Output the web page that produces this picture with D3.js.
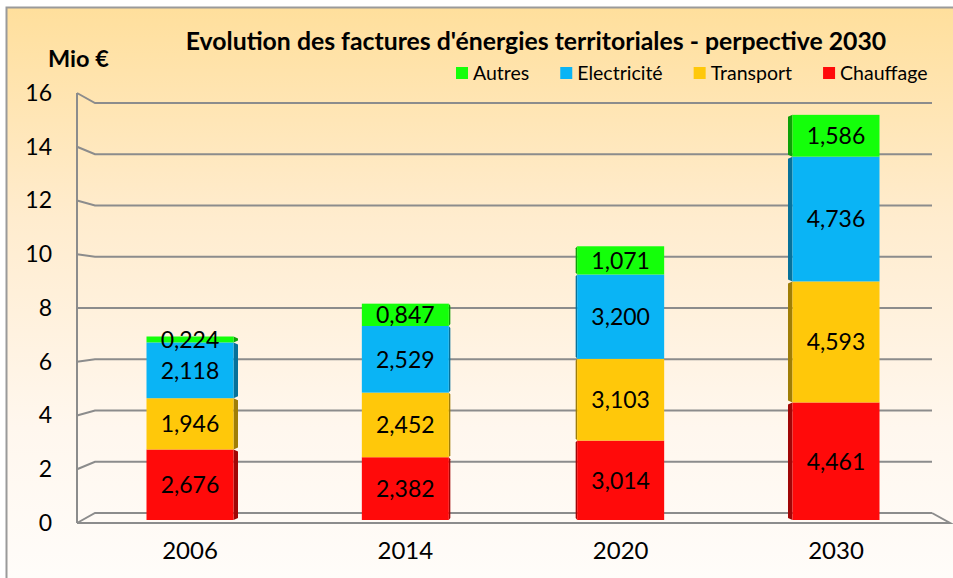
<!DOCTYPE html>
<html>
<head>
<meta charset="utf-8">
<script src="https://cdn.jsdelivr.net/npm/d3@7"></script>
<style>
  body { margin: 0; background: #fff; }
  svg { display: block; font-family: Lato, "Open Sans", sans-serif; }
</style>
</head>
<body>
<svg id="chart"></svg>
<script>
var years = ["2006", "2014", "2020", "2030"];
var series = ["Chauffage", "Transport", "Electricité", "Autres"];
var chauffage = [2.676, 2.382, 3.014, 4.461];
var transport = [1.946, 2.452, 3.103, 4.593];
var electricite = [2.118, 2.529, 3.200, 4.736];
var autres = [0.224, 0.847, 1.071, 1.586];
var yTicks = [0, 2, 4, 6, 8, 10, 12, 14, 16];
var legendOrder = ["Autres", "Electricité", "Transport", "Chauffage"];

var colors = {
    "Chauffage": "#ff0a0a",
    "Transport": "#ffc80a",
    "Electricité": "#0ab4f5",
    "Autres": "#14ff0a"
};

var width = 953, height = 578;

var svg = d3.select("#chart")
    .attr("width", width)
    .attr("height", height);

// background
var defs = svg.append("defs");
var grad = defs.append("linearGradient")
    .attr("id", "bg")
    .attr("x1", 0).attr("y1", 0)
    .attr("x2", 0).attr("y2", 1);
grad.append("stop").attr("offset", "0%").attr("stop-color", "#ffdf9c");
grad.append("stop").attr("offset", "35%").attr("stop-color", "#ffecce");
grad.append("stop").attr("offset", "70%").attr("stop-color", "#fff7ee");
grad.append("stop").attr("offset", "100%").attr("stop-color", "#fffdfb");

svg.append("rect")
    .attr("x", 6.5).attr("y", 7.5)
    .attr("width", 960).attr("height", 600)
    .attr("fill", "url(#bg)")
    .attr("stroke", "#9a9a9a")
    .attr("stroke-width", 2);

// table for stacking
var table = years.map(function (y, i) {
    return {
        year: y,
        "Chauffage": chauffage[i],
        "Transport": transport[i],
        "Electricité": electricite[i],
        "Autres": autres[i]
    };
});
var stacked = d3.stack().keys(series)(table);

// scales: front plane, back wall and bar plane (perspective)
var yFront = d3.scaleLinear().domain([0, 16]).range([523, 93]);
var yBack = d3.scaleLinear().domain([0, 16]).range([513, 103]);
var yBar = d3.scaleLinear().domain([0, 16]).range([520, 98.4]);

var xScale = d3.scaleBand()
    .domain(years)
    .range([86, 940])
    .paddingInner(0.596)
    .paddingOuter(0.281);

var frontLeft = 77, backLeft = 95, backRight = 932, frontRight = 950;
var gridColor = "#8c8c8c";

// walls and gridlines
var grid = svg.append("g")
    .attr("fill", "none")
    .attr("stroke", gridColor)
    .attr("stroke-width", 2);

grid.append("line")
    .attr("x1", frontLeft).attr("x2", frontLeft)
    .attr("y1", yFront(16)).attr("y2", yFront(0));

grid.selectAll(".tickline")
    .data(yTicks)
    .enter()
    .append("polyline")
    .attr("points", function (d) {
        return [frontLeft, yFront(d), backLeft, yBack(d), backRight, yBack(d)].join(",");
    });

grid.append("polyline")
    .attr("points", [frontLeft, yFront(0), frontRight, yFront(0), backRight, yBack(0)].join(","));

// y axis labels
var yAxis = svg.append("g")
    .attr("transform", "translate(" + frontLeft + ",0)")
    .call(d3.axisLeft(yFront).tickValues(yTicks).tickSize(0).tickPadding(25));
yAxis.select(".domain").remove();
yAxis.selectAll("text")
    .attr("font-family", "Lato, sans-serif")
    .attr("font-size", 23)
    .attr("fill", "#000");

// x axis labels
var xAxis = svg.append("g")
    .attr("transform", "translate(0," + yFront(0) + ")")
    .call(d3.axisBottom(xScale).tickSize(0).tickPadding(19));
xAxis.select(".domain").remove();
xAxis.selectAll("text")
    .attr("font-family", "Lato, sans-serif")
    .attr("font-size", 24)
    .attr("fill", "#000");

// bars
var vanish = 513;
var fmt = d3.formatLocale({ decimal: ",", thousands: " ", grouping: [3], currency: ["", "€"] }).format(".3f");

var layers = svg.append("g").selectAll("g")
    .data(stacked)
    .enter()
    .append("g");

// side faces
layers.selectAll(".side")
    .data(function (d) { return d.map(function (p) { return { key: d.key, p: p }; }); })
    .enter()
    .append("polygon")
    .attr("fill", function (d) { return d3.color(colors[d.key]).darker(1.3); })
    .attr("points", function (d) {
        var x0 = xScale(d.p.data.year);
        var bw = xScale.bandwidth();
        var c = x0 + bw / 2;
        var sw = Math.abs(c - vanish) * 4.5 / 323;
        var edge = c < vanish ? x0 + bw : x0;
        var dir = c < vanish ? 1 : -1;
        var yt = yBar(d.p[1]), yb = yBar(d.p[0]);
        return [edge, yt, edge + dir * sw, yt + 2, edge + dir * sw, yb - 2, edge, yb].join(",");
    });

// front faces
layers.selectAll(".front")
    .data(function (d) { return d.map(function (p) { return { key: d.key, p: p }; }); })
    .enter()
    .append("rect")
    .attr("x", function (d) { return xScale(d.p.data.year); })
    .attr("y", function (d) { return yBar(d.p[1]); })
    .attr("width", xScale.bandwidth())
    .attr("height", function (d) { return yBar(d.p[0]) - yBar(d.p[1]); })
    .attr("fill", function (d) { return colors[d.key]; });

// value labels
layers.selectAll(".lbl")
    .data(function (d) { return d.map(function (p) { return { key: d.key, p: p }; }); })
    .enter()
    .append("text")
    .attr("x", function (d) { return xScale(d.p.data.year) + xScale.bandwidth() / 2; })
    .attr("y", function (d) { return yBar((d.p[0] + d.p[1]) / 2); })
    .attr("dy", "0.36em")
    .attr("text-anchor", "middle")
    .attr("font-size", 23)
    .attr("fill", "#000")
    .text(function (d) { return fmt(d.p[1] - d.p[0]); });

// title and unit
svg.append("text")
    .attr("x", 536)
    .attr("y", 50)
    .attr("text-anchor", "middle")
    .attr("font-size", 24.8)
    .attr("font-weight", "bold")
    .text("Evolution des factures d'énergies territoriales - perpective 2030");

svg.append("text")
    .attr("x", 48)
    .attr("y", 67)
    .attr("font-size", 23.5)
    .attr("font-weight", "bold")
    .text("Mio €");

// legend
var legend = svg.append("g").attr("transform", "translate(456,67)");
var lx = 0;
legendOrder.forEach(function (k) {
    var g = legend.append("g").attr("transform", "translate(" + lx + ",0)");
    g.append("rect").attr("width", 12).attr("height", 12).attr("fill", colors[k]);
    var t = g.append("text")
        .attr("x", 17).attr("y", 6)
        .attr("dy", "0.36em")
        .attr("font-size", 19.5)
        .text(k);
    lx += 17 + t.node().getComputedTextLength() + 31;
});
</script>
</body>
</html>
